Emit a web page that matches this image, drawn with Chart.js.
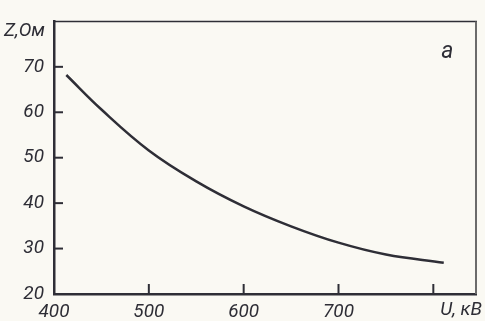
<!DOCTYPE html>
<html>
<head>
<meta charset="utf-8">
<script src="https://cdn.jsdelivr.net/npm/chart.js@4.4.1/dist/chart.umd.min.js"></script>
<style>
  html, body { margin: 0; padding: 0; background: #faf9f3; }
  #wrap { width: 485px; height: 321px; position: relative; }
</style>
</head>
<body>
<div id="wrap"><canvas id="chart"></canvas></div>
<script>
// values
const voltage = [413, 450, 500, 550, 600, 650, 700, 750, 811];   // U, кВ
const impedance = [68.2, 60.6, 51.6, 44.8, 39.3, 34.9, 31.3, 28.7, 26.9]; // Z, Ом
const xTicks = [400, 500, 600, 700, 800];
const yTicks = [20, 30, 40, 50, 60, 70, 80];
const xTitle = 'U, кВ';
const yTitle = 'Z,Ом';
const panelLetter = 'a';

const inkColor = '#2e2e36';
const labelFont = { family: "Roboto, 'DejaVu Sans', sans-serif", size: 19, style: 'italic' };

// frame, inward ticks and the axis titles
const framePlugin = {
    id: 'frame',
    afterDraw(chart) {
        const ctx = chart.ctx;
        const area = chart.chartArea;
        const xs = chart.scales.x, ys = chart.scales.y;
        ctx.save();
        ctx.strokeStyle = inkColor;
        ctx.lineWidth = 1.5;
        ctx.beginPath();
        ctx.moveTo(area.left, area.top);
        ctx.lineTo(area.right + 1, area.top);
        ctx.stroke();
        ctx.strokeStyle = '#6b6b6b';
        ctx.lineWidth = 2;
        ctx.beginPath();
        ctx.moveTo(area.right, area.top);
        ctx.lineTo(area.right, area.bottom);
        ctx.stroke();

        ctx.strokeStyle = inkColor;
        ctx.lineWidth = 2;
        yTicks.forEach(v => {
            if (v === yTicks[0] || v === yTicks[yTicks.length - 1]) return;
            const py = ys.getPixelForValue(v);
            ctx.beginPath();
            ctx.moveTo(area.left, py);
            ctx.lineTo(area.left + 9, py);
            ctx.stroke();
        });
        xTicks.forEach(v => {
            if (v === xTicks[0]) return;
            const px = xs.getPixelForValue(v);
            ctx.beginPath();
            ctx.moveTo(px, area.bottom);
            ctx.lineTo(px, area.bottom - 10);
            ctx.stroke();
        });

        ctx.fillStyle = inkColor;
        ctx.font = 'italic 19px ' + labelFont.family;
        ctx.textBaseline = 'middle';
        ctx.textAlign = 'left';
        ctx.fillText(xTitle, xs.getPixelForValue(800) + 7, area.bottom + 16);
        ctx.textAlign = 'right';
        ctx.fillText(yTitle, area.left - 9, area.top + 10);
        ctx.font = 'italic 23px ' + labelFont.family;
        ctx.textAlign = 'center';
        ctx.fillText(panelLetter, xs.getPixelForValue(800) + 14, area.top + 31);
        ctx.restore();
    }
};

new Chart(document.getElementById('chart'), {
    type: 'line',
    data: {
        datasets: [{
            data: voltage.map((u, i) => ({ x: u, y: impedance[i] })),
            borderColor: inkColor,
            borderWidth: 2.5,
            pointRadius: 0,
            tension: 0.4,
            fill: false
        }]
    },
    options: {
        responsive: true,
        maintainAspectRatio: false,
        animation: false,
        layout: { padding: { top: 14, right: 9, left: 0, bottom: 0 } },
        plugins: {
            legend: { display: false },
            tooltip: { enabled: false }
        },
        scales: {
            x: {
                type: 'linear',
                min: 400,
                max: 845,
                afterBuildTicks: s => { s.ticks = xTicks.map(v => ({ value: v })); },
                afterFit: s => { s.height = 27; },
                grid: { display: false, drawTicks: false },
                border: { display: true, color: inkColor, width: 2.5 },
                ticks: {
                    color: inkColor,
                    font: labelFont,
                    padding: 7,
                    maxRotation: 0,
                    callback: v => (v === 800 ? '' : v)
                }
            },
            y: {
                min: 20,
                max: 80,
                afterBuildTicks: s => { s.ticks = yTicks.map(v => ({ value: v })); },
                afterFit: s => { s.width = 54; },
                grid: { display: false, drawTicks: false },
                border: { display: true, color: inkColor, width: 2.5 },
                ticks: {
                    color: inkColor,
                    font: labelFont,
                    padding: 10,
                    callback: v => (v === 80 ? '' : v)
                }
            }
        }
    },
    plugins: [framePlugin]
});
</script>
</body>
</html>
